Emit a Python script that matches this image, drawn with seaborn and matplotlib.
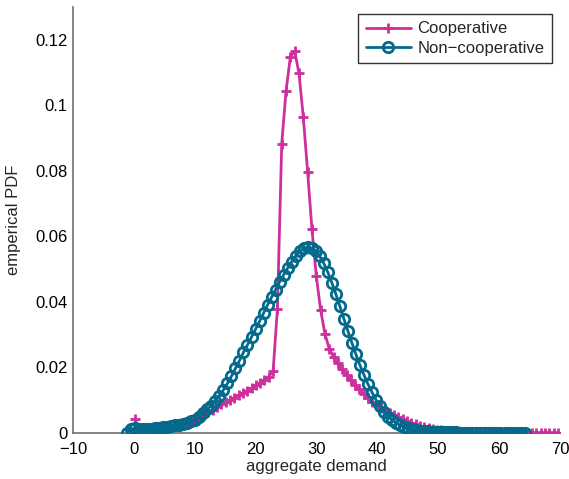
import numpy as np
import pandas as pd
import matplotlib
matplotlib.use("Agg")
import matplotlib.pyplot as plt
import seaborn as sns

# ---- data ----
# Cooperative: 99 equally spaced bins from 0.2 to 69.7
coop_x = np.linspace(0.2, 69.7, 99)
coop_pdf = [
    0.0040, 0.0008, 0.0008, 0.0009, 0.0010, 0.0012, 0.0013, 0.0015, 0.0017, 0.0019,
    0.0022, 0.0025, 0.0028, 0.0032, 0.0039, 0.0046, 0.0054, 0.0062, 0.0070, 0.0078,
    0.0086, 0.0093, 0.0100, 0.0107, 0.0114, 0.0121, 0.0128, 0.0136, 0.0144, 0.0152,
    0.0161, 0.0171, 0.0188, 0.0378, 0.0883, 0.1044, 0.1149, 0.1165, 0.1098, 0.0963,
    0.0796, 0.0621, 0.0479, 0.0375, 0.0302, 0.0256, 0.0232, 0.0212, 0.0194, 0.0177,
    0.0161, 0.0146, 0.0132, 0.0118, 0.0105, 0.0094, 0.0085, 0.0076, 0.0068, 0.0060,
    0.0053, 0.0047, 0.0041, 0.0035, 0.0030, 0.0025, 0.0021, 0.0017, 0.0014, 0.0011,
    0.0009, 0.0007, 0.0005, 0.0004, 0.0003, 0.0003, 0.0002, 0.0002, 0.0002, 0.0001,
    0.0001, 0.0001, 0.0001, 0.0001, 0.0001, 0.0000, 0.0000, 0.0000, 0.0000, 0.0000,
    0.0000, 0.0000, 0.0000, 0.0000, 0.0000, 0.0000, 0.0000, 0.0000, 0.0000,
]

# Non-cooperative: 100 equally spaced bins from -1.1 to 64.2
noncoop_x = np.linspace(-1.1, 64.2, 100)
noncoop_pdf = [
    0.0000, 0.0010, 0.0013, 0.0011, 0.0010, 0.0011, 0.0012, 0.0013, 0.0015, 0.0016,
    0.0018, 0.0020, 0.0022, 0.0024, 0.0027, 0.0030, 0.0034, 0.0039, 0.0048, 0.0060,
    0.0071, 0.0082, 0.0096, 0.0112, 0.0130, 0.0150, 0.0172, 0.0196, 0.0220, 0.0245,
    0.0268, 0.0292, 0.0316, 0.0340, 0.0365, 0.0390, 0.0414, 0.0437, 0.0460, 0.0482,
    0.0503, 0.0522, 0.0540, 0.0554, 0.0563, 0.0567, 0.0564, 0.0555, 0.0539, 0.0517,
    0.0490, 0.0458, 0.0423, 0.0386, 0.0348, 0.0310, 0.0274, 0.0239, 0.0206, 0.0176,
    0.0148, 0.0123, 0.0100, 0.0080, 0.0063, 0.0049, 0.0038, 0.0029, 0.0022, 0.0017,
    0.0013, 0.0010, 0.0008, 0.0006, 0.0005, 0.0004, 0.0003, 0.0002, 0.0002, 0.0001,
    0.0001, 0.0001, 0.0001, 0.0000, 0.0000, 0.0000, 0.0000, 0.0000, 0.0000, 0.0000,
    0.0000, 0.0000, 0.0000, 0.0000, 0.0000, 0.0000, 0.0000, 0.0000, 0.0000, 0.0000,
]

x_ticks = [-10, 0, 10, 20, 30, 40, 50, 60, 70]
y_ticks = [0, 0.02, 0.04, 0.06, 0.08, 0.1, 0.12]
y_tick_labels = ["0", "0.02", "0.04", "0.06", "0.08", "0.1", "0.12"]

# ---- style ----
sns.set_style("white")
plt.rcParams["font.family"] = ["Liberation Sans", "DejaVu Sans"]

PINK = "#CE2E9E"
TEAL = "#046A8C"
AXC = "#707070"
FS = 12

fig = plt.figure(figsize=(5.69, 4.79), dpi=100)
ax = fig.add_axes([0.128, 0.097, 0.856, 0.888])

coop_df = pd.DataFrame({"x": coop_x, "pdf": coop_pdf})
non_df = pd.DataFrame({"x": noncoop_x, "pdf": noncoop_pdf})

sns.lineplot(data=coop_df, x="x", y="pdf", ax=ax, color=PINK, lw=2.0,
             marker="+", markersize=7, markeredgewidth=2.0,
             markeredgecolor=PINK, label="Cooperative", zorder=3)
sns.lineplot(data=non_df, x="x", y="pdf", ax=ax, color=TEAL, lw=2.0,
             marker="o", markersize=7.5, markeredgewidth=2.0,
             markeredgecolor=TEAL, markerfacecolor="none",
             label="Non\u2212cooperative", zorder=4)

ax.set_xlim(-10, 70)
ax.set_ylim(0, 0.13)
ax.set_xticks(x_ticks)
ax.set_xticklabels([("\u2212%d" % -t) if t < 0 else str(t) for t in x_ticks])
ax.set_yticks(y_ticks)
ax.set_yticklabels(y_tick_labels)

for s in ["top", "right"]:
    ax.spines[s].set_visible(False)
for s in ["left", "bottom"]:
    ax.spines[s].set_color(AXC)
    ax.spines[s].set_linewidth(1.2)
ax.tick_params(direction="in", length=4, width=1, color="black",
               labelsize=FS, labelcolor="black")
ax.tick_params(axis="x", pad=7)
ax.tick_params(axis="y", pad=4)

ax.set_xlabel("aggregate demand", fontsize=FS, labelpad=1)
ax.set_ylabel("emperical PDF", fontsize=FS, labelpad=10)

leg = ax.legend(loc="upper right", bbox_to_anchor=(0.984, 0.984), fontsize=FS,
                frameon=True, fancybox=False, edgecolor="black",
                handlelength=2.7, borderpad=0.45, labelspacing=0.25,
                handletextpad=0.4, borderaxespad=0.0)
leg.get_frame().set_linewidth(1.0)

fig.savefig("out.png", dpi=100, facecolor="white")
